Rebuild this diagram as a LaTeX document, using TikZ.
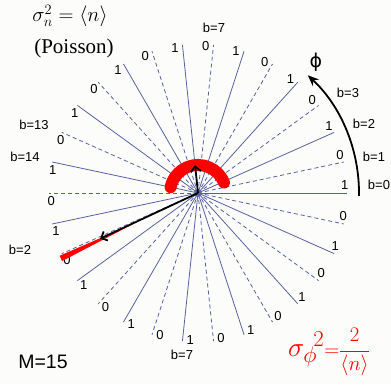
\documentclass[tikz,border=0pt]{standalone}
\usepackage{graphicx}
\usepackage{fontspec}
\setmainfont{Liberation Serif}
\setsansfont{Liberation Sans}
\newfontfamily\phifont{DejaVu Sans}
\usetikzlibrary{arrows.meta}
\definecolor{raycol}{RGB}{88,98,160}
\definecolor{bgcol}{RGB}{252,252,250}
\begin{document}
\begin{tikzpicture}[x=1pt,y=1pt,
  digit/.style={font=\sffamily\fontsize{13}{13}\selectfont, inner sep=0pt},
  blab/.style={font=\sffamily\fontsize{13}{13}\selectfont, inner sep=0pt},
  solidray/.style={draw=raycol, line width=0.8pt},
  dashray/.style={draw=raycol, line width=0.8pt, dash pattern=on 4pt off 3pt},
  thickarrow/.style={line width=1.8pt, -{Straight Barb[length=5pt,width=10pt]}},
]
\fill[bgcol] (-198,-191) rectangle (193,193);
\useasboundingbox (-198,-191) rectangle (193,193);
\coordinate (c) at (0,0);
% rays
\foreach \k in {0,...,29} {
  \pgfmathtruncatemacro{\odd}{mod(\k,2)}
  \pgfmathsetmacro{\ang}{12*\k}
  \coordinate (e\k) at (\ang:149);
  \ifnum\odd=0
    \draw[solidray] (c) -- (e\k);
    \node[digit] (d\k) at (\ang+3:147) {1};
  \else
    \draw[dashray] (c) -- (e\k);
    \node[digit] (d\k) at (\ang+3:147) {0};
  \fi
}
% red phase distribution
\draw[red, line width=12pt, line cap=round] (22:28) arc[start angle=22, end angle=168, radius=28];
\fill[red] (205.5:70) -- (206.6:152) -- (204.4:152) -- cycle;
% arrows
\coordinate (tipA) at (96:28);
\coordinate (tipB) at (205:108);
\draw[thickarrow] (c) -- (tipA);
\draw[thickarrow] (c) -- (tipB);
\coordinate (arcS) at (-1:161);
\draw[line width=1.8pt, -{Stealth[length=11pt,width=9pt]}] (arcS) arc[start angle=-1, end angle=47, radius=161];
% b labels
\node[blab] (b0) at (181,8) {b=0};
\node[blab] (b1) at (176,36) {b=1};
\node[blab] (b2) at (166,69) {b=2};
\node[blab] (b3) at (150,100) {b=3};
\node[blab] (b7t) at (16,165) {b=7};
\node[blab] (b13) at (-164,68) {b=13};
\node[blab] (b14) at (-173,36) {b=14};
\node[blab] (b2l) at (-178,-57) {b=2};
\node[blab] (b7b) at (-16,-162) {b=7};
% other texts
\node[font=\phifont\fontsize{19}{19}\selectfont, inner sep=0pt] (phi) at (118,131) {ϕ};
\node[font=\sffamily\fontsize{19.5}{19.5}\selectfont, inner sep=0pt] (M) at (-155,-169) {M=15};
\node[font=\fontsize{21}{21}\selectfont, inner sep=0pt] (pois) at (-124,145) {(Poisson)};
\node[font=\fontsize{20.74}{20.74}\selectfont, inner sep=0pt] (sn) at (-128,177) {$\sigma^{2}_{n}=\langle n\rangle$};
\node[text=red, inner sep=0pt] (sphi) at (131,-159) {\scalebox{1.1}{\fontsize{24.88}{24.88}\selectfont$\sigma_\phi{}^{\!2}$}\fontsize{20.74}{20.74}\selectfont$\displaystyle{=}\frac{2}{\langle n\rangle}$};
\end{tikzpicture}
\end{document}
